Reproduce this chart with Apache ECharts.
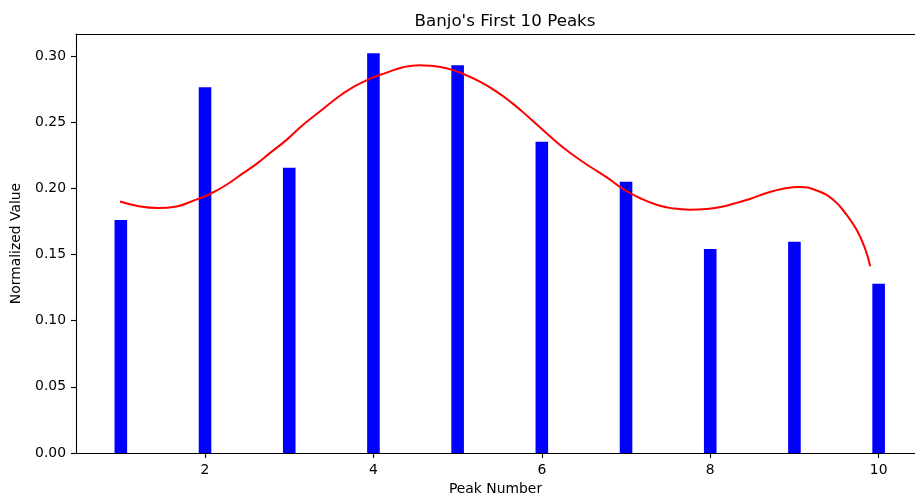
<!DOCTYPE html>
<html>
<head>
<meta charset="utf-8">
<script src="https://cdn.jsdelivr.net/npm/echarts@6/dist/echarts.min.js"></script>
<style>html,body{margin:0;padding:0;background:#fff}#c{width:915px;height:501px}</style>
</head>
<body>
<div id="c"></div>
<script>
const peakNumbers = [1, 2, 3, 4, 5, 6, 7, 8, 9, 10];
const peakValues = [0.176, 0.2764, 0.2155, 0.302, 0.293, 0.2351, 0.205, 0.1542, 0.1597, 0.1278];
const curveX = [0.99, 1.226, 1.443, 1.661, 1.859, 2.057, 2.255, 2.453, 2.611, 2.77, 2.968, 3.165, 3.363, 3.562, 3.759, 3.957, 4.156, 4.353, 4.551, 4.67, 4.868, 5.065, 5.264, 5.462, 5.659, 5.857, 6.056, 6.253, 6.451, 6.57, 6.768, 6.966, 7.164, 7.362, 7.56, 7.758, 7.956, 8.153, 8.351, 8.47, 8.669, 8.866, 9.064, 9.262, 9.46, 9.618, 9.737, 9.836, 9.9];
const curveY = [0.19, 0.1863, 0.1851, 0.1863, 0.1906, 0.1957, 0.2027, 0.2115, 0.2185, 0.2266, 0.2366, 0.248, 0.258, 0.2681, 0.2764, 0.2827, 0.2874, 0.2915, 0.293, 0.2927, 0.2907, 0.2864, 0.2806, 0.2731, 0.2638, 0.253, 0.2417, 0.2308, 0.2216, 0.2165, 0.2085, 0.1995, 0.1927, 0.1876, 0.1848, 0.1838, 0.1844, 0.1863, 0.1897, 0.1919, 0.1964, 0.1997, 0.201, 0.1984, 0.1914, 0.1801, 0.1688, 0.155, 0.1411];
const xTicks = [2, 4, 6, 8, 10];
const yTicks = [0, 0.05, 0.10, 0.15, 0.20, 0.25, 0.30];
const titleText = "Banjo's First 10 Peaks";
const xName = 'Peak Number';
const yName = 'Normalized Value';

const font = 'DejaVu Sans';
const xMin = 0.4675, xMax = 10.432;
const chart = echarts.init(document.getElementById('c'), null, {renderer: 'canvas'});
chart.setOption({
  animation: false,
  backgroundColor: '#fff',
  title: {
    text: titleText, left: 500, top: 8, textAlign: 'center',
    textStyle: {fontFamily: font, fontSize: 16.7, fontWeight: 'normal', color: '#000'}
  },
  grid: {left: 76, top: 34, right: 0, bottom: 46, show: false, containLabel: false},
  xAxis: [{
    type: 'value', min: xMin, max: xMax, position: 'bottom',
    name: xName, nameLocation: 'middle', nameGap: 29,
    nameTextStyle: {fontFamily: font, fontSize: 13.9, color: '#000'},
    axisLine: {show: true, lineStyle: {color: '#000', width: 1.1}},
    axisTick: {show: true, length: 5, customValues: xTicks, lineStyle: {color: '#000', width: 1.1}},
    axisLabel: {customValues: xTicks, margin: 10, fontFamily: font, fontSize: 13.9, color: '#000'},
    splitLine: {show: false}
  }, {
    type: 'value', min: xMin, max: xMax, position: 'top',
    axisLine: {show: true, onZero: false, lineStyle: {color: '#000', width: 1.1}},
    axisTick: {show: false}, axisLabel: {show: false}, splitLine: {show: false}
  }],
  yAxis: {
    type: 'value', min: 0, max: 0.3166,
    name: yName, nameLocation: 'middle', nameGap: 53,
    nameTextStyle: {fontFamily: font, fontSize: 13.9, color: '#000'},
    axisLine: {show: true, lineStyle: {color: '#000', width: 1.1}},
    axisTick: {show: true, length: 5, customValues: yTicks, lineStyle: {color: '#000', width: 1.1}},
    axisLabel: {customValues: yTicks, margin: 10, fontFamily: font, fontSize: 13.9, color: '#000',
      formatter: v => v.toFixed(2)},
    splitLine: {show: false}
  },
  series: [
    {
      type: 'bar', barWidth: 12.6, z: 2, xAxisIndex: 0,
      itemStyle: {color: '#0000ff'},
      data: peakNumbers.map((x, i) => [x, peakValues[i]])
    },
    {
      type: 'line', z: 3, xAxisIndex: 0, showSymbol: false, smooth: 0.5,
      lineStyle: {color: '#ff0000', width: 2},
      data: curveX.map((x, i) => [x, curveY[i]])
    }
  ]
});
</script>
</body>
</html>
